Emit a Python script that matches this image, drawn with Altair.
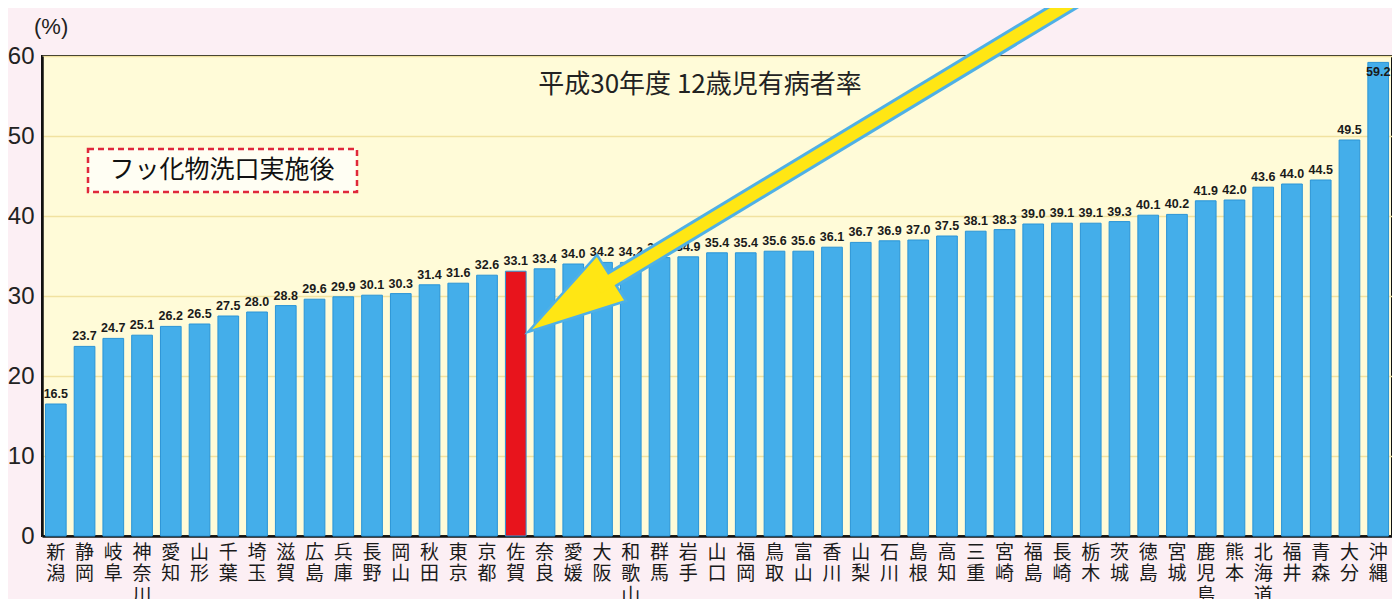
import altair as alt
import pandas as pd

prefectures = ["新潟", "静岡", "岐阜", "神奈川", "愛知", "山形", "千葉", "埼玉", "滋賀", "広島",
               "兵庫", "長野", "岡山", "秋田", "東京", "京都", "佐賀", "奈良", "愛媛", "大阪",
               "和歌山", "群馬", "岩手", "山口", "福岡", "鳥取", "富山", "香川", "山梨", "石川",
               "島根", "高知", "三重", "宮崎", "福島", "長崎", "栃木", "茨城", "徳島", "宮城",
               "鹿児島", "熊本", "北海道", "福井", "青森", "大分", "沖縄"]
rates = [16.5, 23.7, 24.7, 25.1, 26.2, 26.5, 27.5, 28.0, 28.8, 29.6,
         29.9, 30.1, 30.3, 31.4, 31.6, 32.6, 33.1, 33.4, 34.0, 34.2,
         34.2, 34.8, 34.9, 35.4, 35.4, 35.6, 35.6, 36.1, 36.7, 36.9,
         37.0, 37.5, 38.1, 38.3, 39.0, 39.1, 39.1, 39.3, 40.1, 40.2,
         41.9, 42.0, 43.6, 44.0, 44.5, 49.5, 59.2]
highlight = "佐賀"
y_ticks = [0, 10, 20, 30, 40, 50, 60]
title_text = "平成30年度 12歳児有病者率"
box_text = "フッ化物洗口実施後"
unit_text = "(%)"

# arrow annotation in data units (bar index, percent)
arrow_x = [35.96, 19.36]
arrow_y = [67.0, 31.0]
head_x = [18.87]
head_y = [29.75]

df = pd.DataFrame({"pref": prefectures, "rate": rates})
df["label"] = df["rate"].map(lambda v: f"{v:.1f}")

NUM = "Liberation Sans"
CJK = "Noto Sans CJK JP"

y_axis = alt.Axis(title=None, values=y_ticks, labelFont=NUM, labelFontSize=24,
                  labelColor="#222", labelPadding=8, ticks=False,
                  grid=True, gridColor="#F1E2A0", gridWidth=1.5,
                  domainColor="#111", domainWidth=2.5)
y_scale = alt.Scale(domain=[0, 60], nice=False)

x_enc = alt.X("pref:N", sort=None,
              scale=alt.Scale(paddingInner=0.28, paddingOuter=0.12),
              axis=alt.Axis(title=None, labelAngle=0, labelExpr="split(datum.label, '')",
                            labelFont=CJK, labelFontSize=19, labelLineHeight=21.5,
                            labelColor="#1a1a1a", labelPadding=7, labelBaseline="top",
                            ticks=False, domainColor="#111", domainWidth=2.5))
y_enc = alt.Y("rate:Q", scale=y_scale, axis=y_axis)

base = alt.Chart(df)
bars = base.mark_bar(stroke="#2A94D6", strokeWidth=1).encode(
    x=x_enc, y=y_enc,
    color=alt.condition(alt.datum.pref == highlight, alt.value("#E8141C"), alt.value("#44AEEA")),
)
labels = base.transform_filter(alt.datum.rate < 55).mark_text(
    baseline="bottom", dy=-3, font=NUM, fontSize=12.5, fontWeight="bold", color="#1a1a1a"
).encode(x=alt.X("pref:N", sort=None), y=alt.Y("rate:Q", scale=y_scale, axis=y_axis), text="label:N")
labels_top = base.transform_filter(alt.datum.rate >= 55).mark_text(
    baseline="top", dy=4, font=NUM, fontSize=12.5, fontWeight="bold", color="#1a1a1a"
).encode(x=alt.X("pref:N", sort=None), y=alt.Y("rate:Q", scale=y_scale, axis=y_axis), text="label:N")

title = alt.Chart(pd.DataFrame({"t": [title_text]})).mark_text(
    font=CJK, fontSize=26, color="#222", align="center", baseline="middle"
).encode(x=alt.value(658), y=alt.value(29), text="t:N")

box = alt.Chart(pd.DataFrame({"t": [box_text]})).mark_rect(
    fill="#FFFEF3", stroke="#E0283A", strokeWidth=2.5, strokeDash=[6, 4]
).encode(x=alt.value(46), x2=alt.value(315), y=alt.value(93), y2=alt.value(136))
box_label = alt.Chart(pd.DataFrame({"t": [box_text]})).mark_text(
    font=CJK, fontSize=25, color="#111", align="center", baseline="middle"
).encode(x=alt.value(180), y=alt.value(114), text="t:N")

unit = alt.Chart(pd.DataFrame({"t": [unit_text]})).mark_text(
    font=NUM, fontSize=22, color="#222", align="left", baseline="middle"
).encode(x=alt.value(-8), y=alt.value(-29), text="t:N")

main = alt.layer(bars, labels, labels_top, title, box, box_label, unit)

arrow_df = pd.DataFrame({"ax": arrow_x, "rate": arrow_y, "o": [0, 1]})
head_df = pd.DataFrame({"ax": head_x, "rate": head_y})
ax_enc = alt.X("ax:Q", scale=alt.Scale(domain=[0, 47], nice=False, zero=False), axis=None)
ay_enc = alt.Y("rate:Q", scale=y_scale, axis=y_axis)

shaft_outline = alt.Chart(arrow_df).mark_line(
    color="#4FB0E6", strokeWidth=18, strokeCap="butt"
).encode(x=ax_enc, y=ay_enc, order="o:Q")
head_path = "M -0.933 0.567 L 0.217 -0.717 L 0.7 0.05 Z"
head = alt.Chart(head_df).mark_point(
    shape=head_path, size=14400, filled=True, fill="#FFE614", stroke="#4FB0E6",
    strokeWidth=2.5, opacity=1
).encode(x=ax_enc, y=ay_enc)
shaft = alt.Chart(arrow_df).mark_line(
    color="#FFE614", strokeWidth=12, strokeCap="butt"
).encode(x=ax_enc, y=ay_enc, order="o:Q")

arrow = alt.layer(shaft_outline, head, shaft)

chart = alt.layer(main, arrow).resolve_scale(x="independent").properties(
    width=1350, height=480,
    autosize=alt.AutoSizeParams(type="none"),
    padding={"left": 34, "top": 48, "right": 0, "bottom": 63},
    background="#FCEFF4",
).configure_view(fill="#FFFBD8", stroke="#111", strokeWidth=2)

chart.save("out.html", embed_options={"renderer": "svg", "actions": False})
